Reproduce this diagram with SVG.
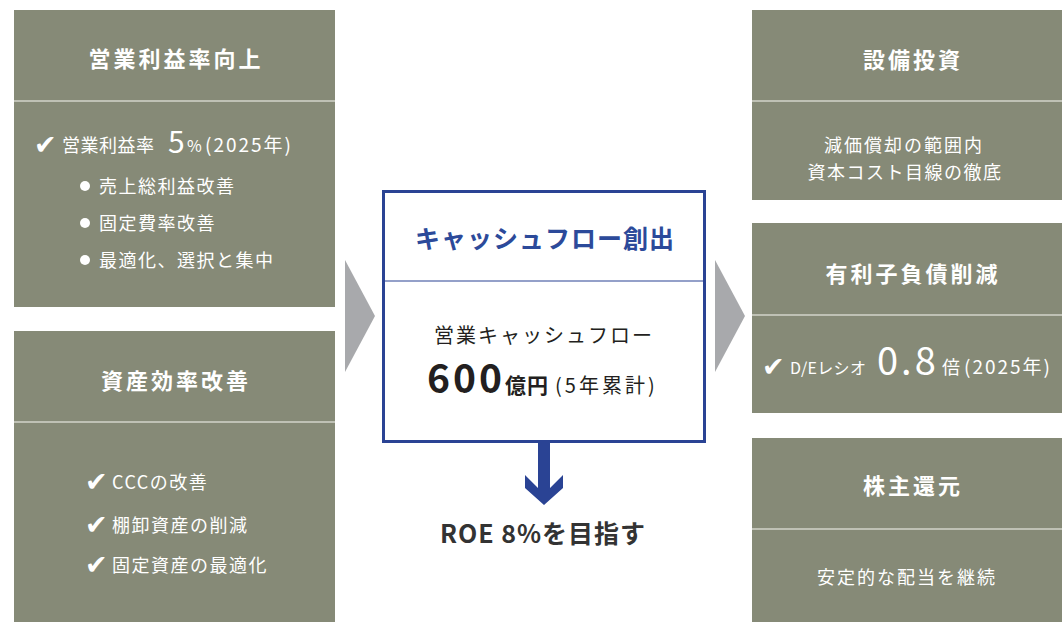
<svg xmlns="http://www.w3.org/2000/svg" width="1062" height="622" viewBox="0 0 1062 622">
<style>
.box{fill:#868a77}
.div{stroke:#d2d3ca;stroke-width:1.5}
text{font-family:"Noto Sans CJK JP","Noto Sans",sans-serif}
.ttl{fill:#fff;font-size:22px;font-weight:700;letter-spacing:3px;text-anchor:middle}
.bd{fill:#fff;font-size:18px;letter-spacing:1.5px}
.ck{font-family:"DejaVu Sans",sans-serif;fill:#fff;font-size:27px}
.chev{fill:#a8a9ac}
.blue{fill:#2a4394}
</style>
<rect width="1062" height="622" fill="#fff"/>
<g id="connectors">
<polygon class="chev" points="345,260 375,316 345,372"/>
<polygon class="chev" points="715,260 745,316 715,372"/>
<polygon class="blue" points="538,443 538,488 525,475 525,488 544,505 563,488 563,475 550,488 550,443"/>
</g>
<g id="node-op">
<rect class="box" x="14" y="10" width="321" height="297"/>
<line class="div" x1="14" y1="101" x2="335" y2="101"/>
<text class="ttl" x="176" y="67">営業利益率向上</text>
<text class="ck" x="34" y="154">✔</text>
<text class="bd" x="62" y="152" style="letter-spacing:0.5px">営業利益率<tspan x="168" y="153" font-size="30">5</tspan><tspan x="187" y="152" font-size="16">%</tspan><tspan x="205" y="152" font-size="19" style="letter-spacing:2px">(2025年)</tspan></text>
<circle cx="85" cy="186" r="5" fill="#fff"/>
<circle cx="85" cy="223" r="5" fill="#fff"/>
<circle cx="85" cy="260" r="5" fill="#fff"/>
<text class="bd" x="99" y="193">売上総利益改善</text>
<text class="bd" x="99" y="230">固定費率改善</text>
<text class="bd" x="99" y="267">最適化、選択と集中</text>
</g>
<g id="node-asset">
<rect class="box" x="14" y="331" width="321" height="291"/>
<line class="div" x1="14" y1="422" x2="335" y2="422"/>
<text class="ttl" x="176" y="389">資産効率改善</text>
<text class="ck" x="85" y="491">✔</text>
<text class="ck" x="85" y="534">✔</text>
<text class="ck" x="85" y="574">✔</text>
<text class="bd" x="112" y="489">CCCの改善</text>
<text class="bd" x="112" y="532">棚卸資産の削減</text>
<text class="bd" x="112" y="572">固定資産の最適化</text>
</g>
<g id="node-cf">
<rect x="383.5" y="191.5" width="321" height="250" fill="#fff" stroke="#2a4394" stroke-width="3"/>
<line x1="384" y1="281" x2="704" y2="281" stroke="#2a4394" stroke-width="1.2"/>
<text x="545" y="248" font-size="25" font-weight="700" letter-spacing="1" text-anchor="middle" fill="#2c4a9a">キャッシュフロー創出</text>
<text x="544" y="343" font-size="20" letter-spacing="2" text-anchor="middle" fill="#231f20">営業キャッシュフロー</text>
<text x="427" y="393" fill="#231f20" font-size="20"><tspan font-size="39" font-weight="700" letter-spacing="3">600</tspan><tspan font-size="21" font-weight="700" letter-spacing="1">億円</tspan><tspan letter-spacing="3" dx="6">(5年累計)</tspan></text>
</g>
<g id="node-roe">
<text x="543" y="543" font-size="25" font-weight="700" letter-spacing="1" text-anchor="middle" fill="#333">ROE 8%を目指す</text>
</g>
<g id="node-capex">
<rect class="box" x="752" y="10" width="320" height="190"/>
<line class="div" x1="752" y1="101" x2="1062" y2="101"/>
<text class="ttl" x="913" y="68">設備投資</text>
<text class="bd" x="904" y="152" text-anchor="middle" style="letter-spacing:2px">減価償却の範囲内</text>
<text class="bd" x="905" y="179" text-anchor="middle" style="letter-spacing:1.5px">資本コスト目線の徹底</text>
</g>
<g id="node-debt">
<rect class="box" x="752" y="223" width="320" height="190"/>
<line class="div" x1="752" y1="315" x2="1062" y2="315"/>
<text class="ttl" x="913" y="282">有利子負債削減</text>
<text class="ck" x="762" y="376">✔</text>
<text class="bd" x="790" y="374" style="letter-spacing:0.3px;font-size:16px">D/Eレシオ<tspan x="877" y="375" font-size="38" style="letter-spacing:3px">0.8</tspan><tspan x="942" y="374" font-size="18">倍</tspan><tspan x="964" font-size="19" style="letter-spacing:2px">(2025年)</tspan></text>
</g>
<g id="node-return">
<rect class="box" x="752" y="438" width="320" height="184"/>
<line class="div" x1="752" y1="529" x2="1062" y2="529"/>
<text class="ttl" x="913" y="494">株主還元</text>
<text class="bd" x="907" y="584" text-anchor="middle" style="letter-spacing:2px">安定的な配当を継続</text>
</g>
</svg>
